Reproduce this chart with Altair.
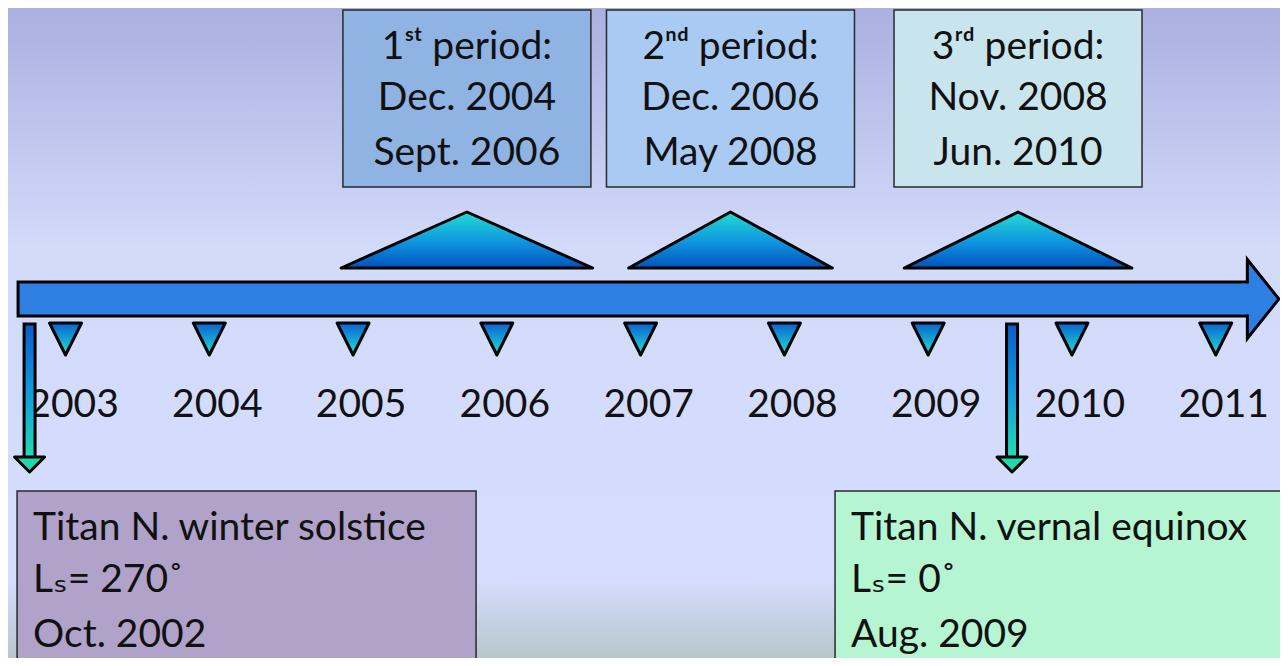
import altair as alt
import pandas as pd

# ---------------- data ----------------
YEARS = [2003, 2004, 2005, 2006, 2007, 2008, 2009, 2010, 2011]

PERIOD_TITLES = ["1ˢᵗ period:", "2ⁿᵈ period:", "3ʳᵈ period:"]
PERIOD_START_LABELS = ["Dec. 2004", "Dec. 2006", "Nov. 2008"]
PERIOD_END_LABELS = ["Sept. 2006", "May 2008", "Jun. 2010"]
PERIOD_START_YM = [(2004, 12), (2006, 12), (2008, 11)]
PERIOD_END_YM = [(2006, 9), (2008, 5), (2010, 6)]
PERIOD_COLORS = ["#8fb3e3", "#a9caf3", "#c8e5ee"]

EVENT_TITLES = ["Titan N. winter sols\u200ctice", "Titan N. vernal equinox"]
EVENT_LS = ["Lₛ= 270˚", "Lₛ= 0˚"]
EVENT_DATE_LABELS = ["Oct. 2002", "Aug. 2009"]
EVENT_YM = [(2002, 10), (2009, 8)]
EVENT_COLORS = ["#b1a2c9", "#b5f5d2"]

TIMELINE_SPAN = [2002.67, 2011.22]   # start / end of the time arrow (years)

# ---------------- layout ----------------
W, H = 1272, 650
X_DOMAIN = [2002.60, 2011.447]
FONT = "Lato, 'DejaVu Sans', sans-serif"
FS = 39

def ym(y, m):
    return y + (m - 1) / 12.0

xs = alt.Scale(domain=X_DOMAIN, nice=False, zero=False)
ys = alt.Scale(domain=[0, H], reverse=True, nice=False, zero=False)

def X(f):
    return alt.X(f, type="quantitative", scale=xs, axis=None)

def Y(f):
    return alt.Y(f, type="quantitative", scale=ys, axis=None, stack=None)

def vgrad(stops):
    return alt.LinearGradient(
        gradient="linear", x1=0, y1=0, x2=0, y2=1,
        stops=[alt.GradientStop(offset=o, color=c) for o, c in stops],
    )

GRAD_UP = vgrad([(0, "#22dcd2"), (0.55, "#0e94e0"), (1, "#0052bc")])
GRAD_DOWN = vgrad([(0, "#0a62d0"), (1, "#22e0d4")])
GRAD_EVENT = vgrad([(0, "#0a5cc8"), (0.5, "#1298dc"), (1, "#22dcb4")])
BG = vgrad([(0, "#aab0e0"), (0.37, "#d2dbfa"), (0.88, "#d4ddfe"), (1, "#b8c7cc")])

# ---------------- tables ----------------
one = pd.DataFrame({"k": [0]})
years_df = pd.DataFrame({"year": YEARS, "label": [str(y) for y in YEARS]})

starts = [ym(*a) for a in PERIOD_START_YM]
ends = [ym(*a) for a in PERIOD_END_YM]
mids = [(a + b) / 2 for a, b in zip(starts, ends)]
periods_df = pd.DataFrame({"p": range(3), "mid": mids, "color": PERIOD_COLORS})

BASE_Y, APEX_Y = 260, 204
tri_rows = []
for i, (s, e, m) in enumerate(zip(starts, ends, mids)):
    tri_rows += [
        {"p": i, "x": s, "y": BASE_Y, "base": BASE_Y},
        {"p": i, "x": m, "y": APEX_Y, "base": BASE_Y},
        {"p": i, "x": e, "y": BASE_Y, "base": BASE_Y},
    ]
tri_df = pd.DataFrame(tri_rows)

TOP_BASELINES = [51, 102, 157]
ptext_rows = []
for i in range(3):
    for j, t in enumerate([PERIOD_TITLES[i], PERIOD_START_LABELS[i], PERIOD_END_LABELS[i]]):
        ptext_rows.append({"mid": mids[i], "text": t, "ty": TOP_BASELINES[j]})
ptext_df = pd.DataFrame(ptext_rows)

ev_dates = [ym(*a) for a in EVENT_YM]
events_df = pd.DataFrame({"date": ev_dates})
timeline_df = pd.DataFrame({"start": [TIMELINE_SPAN[0]], "end": [TIMELINE_SPAN[1]]})

# ---------------- layers ----------------
layers = []

layers.append(
    alt.Chart(one).mark_rect(fill=BG, strokeWidth=0).encode(
        x=alt.value(0), x2=alt.value(W), y=alt.value(0), y2=alt.value(H)
    )
)

# top period boxes
layers.append(
    alt.Chart(periods_df).mark_rect(xOffset=-124, x2Offset=124, stroke="#2a2a2a", strokeWidth=1.5).encode(
        x=X("mid"), x2=alt.X2("mid"), y=alt.value(2), y2=alt.value(179),
        fill=alt.Fill("color:N", scale=None),
    )
)
layers.append(
    alt.Chart(ptext_df).mark_text(font=FONT, fontSize=FS, align="center", baseline="alphabetic", color="#111111").encode(
        x=X("mid"), y=Y("ty"), text="text:N"
    )
)

# period triangles
layers.append(
    alt.Chart(tri_df).mark_area(fill=GRAD_UP, stroke="black", strokeWidth=3, strokeJoin="round", opacity=1).encode(
        x=X("x"), y=Y("y"), y2=alt.Y2("base"), detail="p:N"
    )
)

# main time arrow
layers.append(
    alt.Chart(timeline_df).mark_rect(fill="#2e7fe2", stroke="black", strokeWidth=3).encode(
        x=X("start"), x2=alt.X2("end"), y=alt.value(274), y2=alt.value(308)
    )
)
layers.append(
    alt.Chart(timeline_df).mark_point(
        shape="M0,-1L0.8,0L0,1Z", size=79 * 79, fill="#2e7fe2", stroke="black",
        strokeWidth=3, filled=True, opacity=1, strokeJoin="miter"
    ).encode(x=X("end"), y=alt.value(291))
)
layers.append(
    alt.Chart(timeline_df).mark_rect(fill="#2e7fe2", strokeWidth=0, xOffset=-6, x2Offset=4).encode(
        x=X("end"), x2=alt.X2("end"), y=alt.value(275.6), y2=alt.value(306.4)
    )
)

# year tick triangles and labels
layers.append(
    alt.Chart(years_df).mark_point(
        shape="M-1,-1L1,-1L0,1Z", size=32 * 32, fill=GRAD_DOWN, stroke="black",
        strokeWidth=3, filled=True, opacity=1, strokeJoin="round"
    ).encode(x=X("year"), y=alt.value(331))
)
layers.append(
    alt.Chart(years_df).mark_text(font=FONT, fontSize=FS, align="center", baseline="alphabetic", dx=8, color="#111111").encode(
        x=X("year"), y=alt.value(409), text="label:N"
    )
)

# event arrows
layers.append(
    alt.Chart(events_df).mark_rect(fill=GRAD_EVENT, stroke="black", strokeWidth=3, xOffset=-5.5, x2Offset=5.5).encode(
        x=X("date"), x2=alt.X2("date"), y=alt.value(316), y2=alt.value(450)
    )
)
layers.append(
    alt.Chart(events_df).mark_point(
        shape="M-1,-0.5L1,-0.5L0,0.5Z", size=30 * 30, fill="#22d8aa", stroke="black",
        strokeWidth=3, filled=True, opacity=1, strokeJoin="round"
    ).encode(x=X("date"), y=alt.value(456.5))
)

# event boxes (left / right extent relative to the event date, in px)
BOX_OFFSETS = [(-12.5, 446.5), (-177, 400)]
EV_BASELINES = [532, 584, 639]
for i in range(2):
    d = pd.DataFrame({"date": [ev_dates[i]]})
    lo, hi = BOX_OFFSETS[i]
    layers.append(
        alt.Chart(d).mark_rect(fill=EVENT_COLORS[i], stroke="#2a2a2a", strokeWidth=1.5,
                               xOffset=lo, x2Offset=hi, clip=True).encode(
            x=X("date"), x2=alt.X2("date"), y=alt.value(483), y2=alt.value(H + 20)
        )
    )
    tdf = pd.DataFrame({
        "date": [ev_dates[i]] * 3,
        "text": [EVENT_TITLES[i], EVENT_LS[i], EVENT_DATE_LABELS[i]],
        "ty": EV_BASELINES,
    })
    layers.append(
        alt.Chart(tdf).mark_text(font=FONT, fontSize=FS, align="left", baseline="alphabetic",
                                 dx=lo + 16, color="#111111").encode(
            x=X("date"), y=Y("ty"), text="text:N"
        )
    )

chart = alt.layer(*layers).properties(
    width=W, height=H, padding=0, autosize=alt.AutoSizeParams(type="none")
).configure_view(stroke=None)

chart.save("out.html", embed_options={"renderer": "svg", "actions": False})
